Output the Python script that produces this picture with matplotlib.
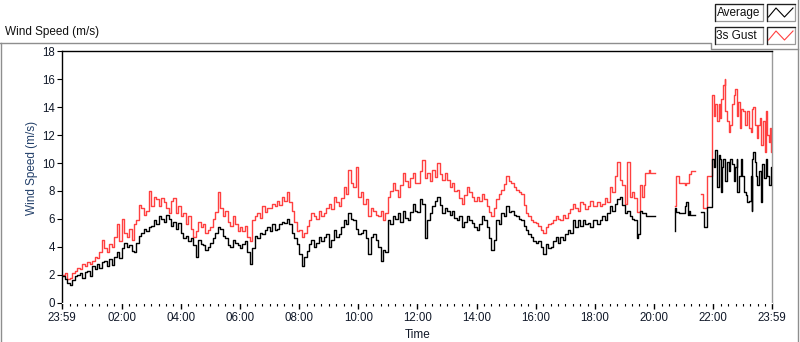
import numpy as np
import matplotlib
matplotlib.use("Agg")
import matplotlib.pyplot as plt
from matplotlib.lines import Line2D
from matplotlib.patches import Rectangle

plt.rcParams['font.family'] = ['Liberation Sans', 'DejaVu Sans']

# ---------------- data (hours since 00:00, m/s) ----------------
# 5-minute readings 00:00 .. 19:25
avg_dense = [
    1.9, 1.7, 1.4, 1.3, 1.6, 1.9, 2.0, 2.1, 1.8, 2.2, 2.3, 1.9,
    2.6, 2.4, 2.8, 2.5, 2.9, 3.0, 2.6, 3.1, 2.7, 3.3, 3.6, 3.2,
    3.9, 4.3, 4.0, 4.1, 3.7, 3.6, 4.3, 4.8, 5.0, 5.3, 5.1, 5.4,
    5.5, 5.9, 5.6, 6.2, 6.0, 5.8, 6.3, 6.0, 5.5, 5.8, 5.3, 5.7,
    5.0, 4.6, 4.8, 4.4, 4.6, 4.1, 3.3, 4.5, 4.2, 4.1, 3.8, 4.0,
    4.3, 4.6, 5.0, 5.4, 5.3, 4.8, 4.6, 4.1, 4.0, 4.5, 4.3, 4.1,
    3.9, 4.2, 4.4, 3.6, 2.8, 3.9, 4.8, 4.6, 5.0, 4.9, 5.2, 5.4,
    5.1, 5.6, 5.2, 5.3, 5.6, 5.8, 5.7, 6.0, 5.6, 5.0, 4.6, 4.2,
    3.5, 2.6, 3.3, 3.7, 4.2, 4.5, 4.0, 4.3, 4.7, 4.4, 4.7, 4.9,
    4.0, 4.5, 5.2, 4.7, 4.9, 5.4, 5.9, 5.6, 6.4, 6.0, 5.9, 5.3,
    4.9, 5.0, 5.2, 4.6, 3.5, 4.7, 4.9, 4.5, 4.0, 3.0, 3.8, 3.6,
    5.9, 5.6, 6.2, 6.0, 6.4, 5.8, 6.6, 6.1, 5.9, 6.5, 7.1, 6.6,
    6.5, 7.4, 7.1, 4.6, 5.9, 6.4, 6.9, 7.3, 7.6, 7.0, 6.4, 6.8,
    6.6, 6.3, 6.6, 6.1, 5.9, 6.2, 5.4, 5.8, 6.2, 5.9, 5.7, 5.4,
    5.2, 5.6, 6.2, 5.9, 5.4, 4.6, 3.8, 4.5, 5.9, 5.6, 6.4, 6.2,
    6.9, 6.5, 6.6, 6.3, 6.2, 6.0, 5.9, 5.5, 5.2, 4.9, 4.7, 4.4,
    4.3, 4.4, 4.0, 3.5, 4.2, 3.9, 4.0, 4.4, 4.7, 4.3, 4.7, 4.5,
    4.9, 5.2, 5.0, 5.9, 5.4, 5.9, 5.5, 5.9, 5.6, 5.7, 5.4, 5.9,
    5.9, 5.6, 5.9, 6.2, 5.9, 6.4, 6.9, 6.6, 7.1, 7.4, 7.6, 7.0,
    6.4, 6.6, 6.2, 6.0, 5.9, 5.1,
]
gust_dense = [
    2.0, 2.1, 1.7, 1.8, 2.1, 2.3, 2.5, 2.4, 2.8, 2.6, 2.9, 2.8,
    3.0, 3.3, 3.2, 3.6, 4.5, 3.9, 3.6, 4.2, 4.0, 4.7, 5.6, 4.4,
    6.0, 5.0, 4.7, 5.3, 4.5, 5.6, 5.9, 7.0, 6.8, 6.3, 6.6, 8.0,
    6.9, 7.6, 7.4, 6.9, 7.5, 7.2, 6.8, 6.4, 7.3, 7.5, 6.4, 6.9,
    6.2, 6.4, 5.6, 6.2, 5.3, 4.7, 5.1, 5.8, 5.4, 5.6, 5.0, 5.2,
    5.4, 6.0, 6.5, 7.9, 6.8, 6.2, 6.6, 5.8, 5.5, 6.2, 5.6, 5.1,
    5.4, 5.1, 5.5, 4.7, 4.4, 5.9, 6.2, 6.4, 6.1, 6.9, 6.5, 6.8,
    6.8, 7.1, 6.9, 7.3, 7.0, 7.6, 7.3, 7.9, 7.2, 6.6, 5.8, 5.1,
    5.2, 4.7, 5.0, 5.5, 5.9, 6.4, 6.2, 6.0, 6.6, 6.2, 6.4, 6.8,
    7.1, 6.7, 7.6, 7.2, 6.9, 7.5, 8.3, 7.8, 9.5, 8.6, 8.3, 9.7,
    7.6, 7.9, 7.1, 7.4, 6.2, 6.8, 6.6, 6.3, 6.2, 6.6, 5.9, 6.4,
    7.6, 8.0, 8.6, 8.1, 7.6, 8.4, 9.3, 8.7, 8.3, 8.9, 9.3, 8.6,
    8.6, 9.4, 10.2, 8.9, 9.3, 8.7, 9.5, 9.0, 10.0, 9.2, 8.8, 9.3,
    8.8, 8.3, 8.6, 8.0, 8.1, 7.5, 7.1, 7.7, 8.3, 7.9, 7.6, 7.3,
    7.6, 7.3, 7.8, 7.4, 6.9, 6.5, 6.2, 6.8, 7.4, 7.8, 8.1, 8.5,
    9.1, 8.7, 8.6, 8.3, 8.1, 7.9, 7.8, 7.0, 6.4, 6.2, 5.9, 5.8,
    5.7, 5.5, 5.2, 5.0, 5.4, 5.6, 5.7, 5.9, 6.2, 6.0, 5.9, 6.3,
    6.1, 6.4, 6.7, 7.1, 6.8, 6.6, 7.2, 7.1, 6.7, 6.9, 7.3, 6.9,
    6.9, 7.2, 6.9, 7.1, 7.5, 7.2, 8.3, 7.9, 9.1, 10.1, 8.8, 8.4,
    7.1, 10.1, 7.6, 7.9, 7.5, 6.5,
]
dense_step_min = 5

# irregular readings after 19:25 (NaN = no data)
avg_tail_t = [19.43, 19.45, 19.53, 19.59, 19.74, 20.02,
              20.70, 20.71, 20.74, 20.83, 21.03, 21.08, 21.14, 21.17, 21.20, 21.37,
              21.58, 21.68, 21.79, 21.96, 22.02, 22.07, 22.11, 22.13, 22.19, 22.22,
              22.27, 22.30, 22.33, 22.38, 22.45, 22.47, 22.53, 22.58, 22.64, 22.70,
              22.73, 22.79, 22.81, 22.87, 22.92, 22.98, 23.04, 23.09, 23.15, 23.21,
              23.26, 23.30, 23.32, 23.35, 23.40, 23.43, 23.49, 23.54, 23.60, 23.66,
              23.71, 23.77, 23.83, 23.88, 23.94, 23.983]
avg_tail_v = [4.6, 4.9, 6.6, 6.4, 6.2, np.nan,
              5.1, 6.8, 6.5, 6.4, 6.9, 7.2, 6.3, 6.6, 6.3, np.nan,
              6.5, 5.45, 6.85, 10.3, 9.7, 10.9, 9.9, 8.3, 10.6, 10.3,
              7.9, 9.7, 10.3, 8.7, 9.1, 10.1, 9.4, 10.3, 9.9, 8.7,
              9.7, 10.3, 7.9, 9.1, 10.3, 9.1, 7.9, 7.7, 7.2, 7.3,
              9.1, 6.6, 10.3, 10.8, 10.1, 9.1, 8.4, 9.4, 7.2, 9.9,
              8.9, 10.3, 9.1, 8.4, 9.7, 9.4]
gust_tail_t = [19.43, 19.53, 19.59, 19.67, 19.70, 19.81, 19.87, 20.02,
               20.70, 20.74, 20.85, 21.03, 21.08, 21.17, 21.23, 21.37,
               21.57, 21.66, 21.79, 21.96, 22.02, 22.07, 22.13, 22.19, 22.22,
               22.27, 22.33, 22.38, 22.40, 22.47, 22.53, 22.58, 22.64, 22.70,
               22.73, 22.79, 22.83, 22.90, 22.94, 23.01, 23.06, 23.13, 23.21,
               23.26, 23.32, 23.35, 23.40, 23.47, 23.51, 23.58, 23.62, 23.69,
               23.74, 23.77, 23.83, 23.88, 23.92, 23.96, 23.983]
gust_tail_v = [6.5, 8.4, 7.6, 8.4, 9.3, 9.5, 9.3, np.nan,
               6.9, 9.1, 8.6, 8.4, 8.6, 9.2, 9.4, np.nan,
               7.8, 6.8, 9.1, 14.9, 13.4, 14.2, 13.0, 14.2, 13.2,
               14.6, 15.6, 16.0, 13.7, 13.0, 12.2, 12.7, 14.2, 14.9,
               15.3, 13.4, 14.4, 12.5, 13.9, 13.7, 12.7, 13.7, 12.5,
               12.2, 13.9, 14.0, 12.7, 11.8, 12.7, 13.2, 11.3, 13.0,
               10.8, 13.7, 12.0, 11.5, 12.5, 10.8, 11.8]

xtick_labels = ['23:59', '02:00', '04:00', '06:00', '08:00', '10:00', '12:00',
                '14:00', '16:00', '18:00', '20:00', '22:00', '23:59']
yticks = [0, 2, 4, 6, 8, 10, 12, 14, 16, 18]

# ---------------- build series ----------------
t_dense = np.arange(len(avg_dense)) * dense_step_min / 60.0
avg_t = np.concatenate([t_dense, avg_tail_t])
avg_v = np.concatenate([avg_dense, avg_tail_v])
gust_t = np.concatenate([t_dense, gust_tail_t])
gust_v = np.concatenate([gust_dense, gust_tail_v])

W, H = 800, 342
fig = plt.figure(figsize=(W / 100, H / 100), dpi=100)
fig.patch.set_facecolor('white')

def fx(x):
    return x / W

def fy(y):
    return 1 - y / H

L, R, T, B = 62, 772, 51.3, 302.7
ax = fig.add_axes([fx(L), fy(B), fx(R) - fx(L), fy(T) - fy(B)])

red = '#ff4040'
ax.plot(gust_t, gust_v, color=red, lw=1.0, drawstyle='steps-post', zorder=2)
ax.plot(avg_t, avg_v, color='black', lw=1.0, drawstyle='steps-post', zorder=3)

x0 = -1 / 60.0
x1 = 24 - 1 / 60.0
ax.set_xlim(x0, x1)
ax.set_ylim(0, 18)

major = [x0] + list(range(2, 23, 2)) + [x1]
ax.set_xticks(major)
ax.set_xticklabels(xtick_labels)
ax.set_xticks(np.arange(0, 24, 0.25), minor=True)
ax.set_yticks(yticks)
ax.set_yticklabels([str(v) for v in yticks])

ax.tick_params(axis='x', which='major', direction='out', length=4.5, width=1.0,
               color='black', labelsize=8.3, pad=2, labelcolor='#101828')
ax.tick_params(axis='x', which='minor', direction='out', length=2.2, width=0.8,
               color='black')
ax.tick_params(axis='y', which='major', direction='out', length=3.6, width=0.8,
               color='black', labelsize=8.3, pad=1.5, labelcolor='#101828')

for s in ['top', 'left']:
    ax.spines[s].set_color('black')
    ax.spines[s].set_linewidth(1.0)
ax.spines['right'].set_color('#9a9a9a')
ax.spines['right'].set_linewidth(1.0)
ax.spines['bottom'].set_color('white')

fig.text(fx(418), fy(335), 'Time', ha='center', va='center', fontsize=8.5,
         color='#101828')
fig.text(fx(32), fy(168), 'Wind Speed (m/s)', rotation=90, ha='center',
         va='center', fontsize=8.5, color='#23406a')
fig.text(fx(5), fy(32.5), 'Wind Speed (m/s)', ha='left', va='center',
         fontsize=8.5, color='#101010')

# outer frame (LabVIEW style)
gray = '#8e8e8e'
def fline(xs, ys, color=gray, lw=1.0):
    fig.add_artist(Line2D([fx(x) for x in xs], [fy(y) for y in ys],
                          color=color, lw=lw, transform=fig.transFigure))

fline([1, 1], [42.5, 342])
fline([0, 711, 711, 797.5], [42.5, 42.5, 49.3, 49.3])
fline([797.5, 797.5], [0, 342])

# legend boxes
def fbox(x0b, y0b, x1b, y1b):
    fig.add_artist(Rectangle((fx(x0b), fy(y1b)), fx(x1b) - fx(x0b),
                             fy(y0b) - fy(y1b), transform=fig.transFigure,
                             facecolor='white', edgecolor='#9a9a9a', lw=0.9))
    fline([x0b, x0b, x1b], [y1b, y0b, y0b], color='#202020', lw=0.9)

for (row_y0, row_y1, label, col) in [(4, 20.5, 'Average', 'black'),
                                     (27, 43.5, '3s Gust', red)]:
    fbox(714.5, row_y0, 763, row_y1)
    fbox(766.5, row_y0, 794.5, row_y1)
    fig.text(fx(716.5), fy((row_y0 + row_y1) / 2 + 0.5), label, ha='left',
             va='center', fontsize=8.5, color='#101010')
    ymid_lo = row_y1 - 3.5
    ymid_hi = row_y0 + 4
    fline([768.5, 776, 784.5, 793], [ymid_lo, ymid_hi, ymid_lo, ymid_hi],
          color=col, lw=0.8)

fig.savefig('out.png', dpi=100, facecolor='white')
